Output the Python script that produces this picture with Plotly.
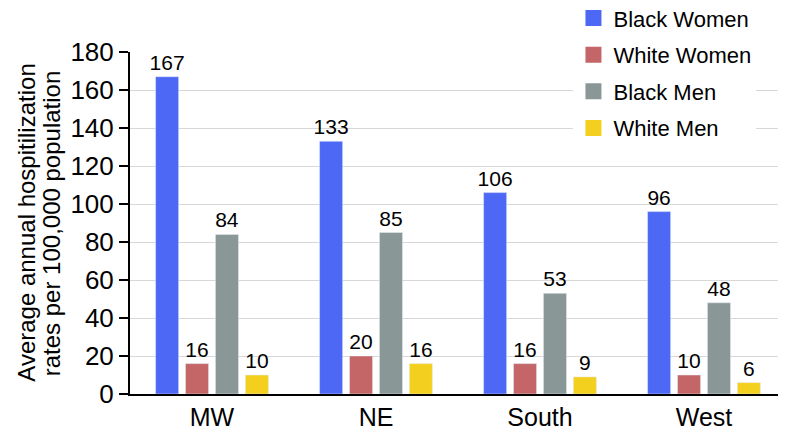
import plotly.graph_objects as go

regions = ["MW", "NE", "South", "West"]
series = ["Black Women", "White Women", "Black Men", "White Men"]
black_women = [167, 133, 106, 96]
white_women = [16, 20, 16, 10]
black_men = [84, 85, 53, 48]
white_men = [10, 16, 9, 6]
colors = ["#4d68f5", "#c46667", "#899796", "#f4d01e"]

values = [black_women, white_women, black_men, white_men]

fig = go.Figure()
for name, vals, col in zip(series, values, colors):
    fig.add_trace(go.Bar(
        x=regions, y=vals, name=name, marker_color=col, showlegend=False,
        text=vals, textposition="outside", cliponaxis=False, constraintext="none",
        textfont=dict(size=21, color="black"),
    ))
# legend entries with big square swatches, one group each so rows can be spaced out
for name, col in zip(series, colors):
    fig.add_trace(go.Scatter(
        x=[None], y=[None], mode="markers", name=name, legendgroup=name,
        marker=dict(symbol="square", size=18, color=col),
    ))

# y title as two rotated lines so the line spacing can be kept tight
fig.add_annotation(text="Average annual hospitilization", textangle=-90,
                   xref="paper", yref="paper", x=-0.159, y=0.5,
                   xanchor="center", yanchor="middle", showarrow=False,
                   font=dict(size=24))
fig.add_annotation(text="rates per 100,000 population", textangle=-90,
                   xref="paper", yref="paper", x=-0.120, y=0.5,
                   xanchor="center", yanchor="middle", showarrow=False,
                   font=dict(size=24))

# page body has an 8px margin, so the figure is 8px smaller and margins shifted
fig.update_layout(
    width=778, height=424,
    margin=dict(l=122, r=0, t=44, b=38, autoexpand=False),
    plot_bgcolor="white", paper_bgcolor="white",
    font=dict(family="Liberation Sans, Arial, sans-serif", color="black"),
    barmode="group", bargap=0.27, bargroupgap=0.23,
    legend=dict(
        x=0.676, y=1.16, xanchor="left", yanchor="top",
        bgcolor="white", font=dict(size=22),
        itemwidth=30, tracegroupgap=5,
    ),
    xaxis=dict(
        showline=True, linecolor="black", linewidth=2, ticks="",
        tickfont=dict(size=25), automargin=False,
    ),
    yaxis=dict(
        range=[0, 180], dtick=20, showline=True, linecolor="black", linewidth=2,
        ticks="outside", ticklen=9, tickcolor="black", tickwidth=2,
        tickfont=dict(size=26), gridcolor="#d8d8d8", automargin=False,
    ),
)

fig.write_html("out.html")
